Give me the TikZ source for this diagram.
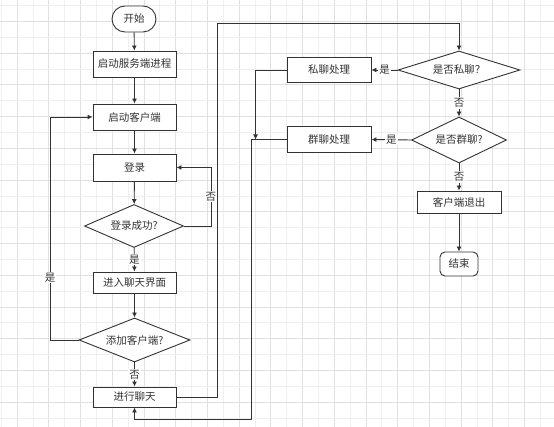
\documentclass[tikz,border=0pt]{standalone}
\usepackage{fontspec}
\setmainfont{Noto Sans CJK SC}
\usetikzlibrary{positioning,arrows.meta,calc,shapes.geometric}
\definecolor{flowline}{RGB}{51,51,51}
\definecolor{gridminor}{RGB}{239,239,239}
\definecolor{gridmajor}{RGB}{224,224,224}
\tikzset{
  flowfont/.style={font=\fontsize{10.5}{12}\selectfont, text=flowline},
  proc/.style={rectangle, draw=flowline, fill=white, line width=0.9pt,
               minimum width=83pt, minimum height=26pt, inner sep=0pt, flowfont},
  term/.style={proc, rounded corners=13pt, minimum width=44pt},
  decide/.style={diamond, draw=flowline, fill=white, line width=0.9pt,
                 inner sep=0pt, flowfont},
  edge/.style={-{Latex[length=5pt,width=5pt]}, line width=0.9pt, flowline},
  yn/.style={fill=white, inner sep=1pt, flowfont},
  minorline/.style={gridminor, line width=1pt},
  majorline/.style={gridmajor, line width=1pt}
}

\begin{document}
\begin{tikzpicture}[x=1pt,y=-1pt]
\useasboundingbox (0,0) rectangle (554,427);
\fill[white] (0,0) rectangle (554,427);
\foreach \k in {0,...,17} {
  \draw[minorline] ({1.3+31.72*\k},0) -- ({1.3+31.72*\k},427);
  \draw[majorline] ({17.16+31.72*\k},0) -- ({17.16+31.72*\k},427);
}
\foreach \k in {0,...,13} {
  \draw[minorline] (0,{5.7+31.72*\k}) -- (554,{5.7+31.72*\k});
  \draw[majorline] (0,{21.56+31.72*\k}) -- (554,{21.56+31.72*\k});
}

\node[term] (start) at (134,19) {开始};
\node[proc] (server) at (134.5,64) {启动服务端进程};
\node[proc] (client) at (134.5,117) {启动客户端};
\node[proc, minimum height=27pt] (login) at (134.5,167.5) {登录};
\node[decide, minimum width=99pt, minimum height=43pt, aspect=2.3] (okq) at (134,226) {登录成功?};
\node[proc, minimum height=21pt] (enter) at (134.5,282.5) {进入聊天界面};
\node[decide, minimum width=111pt, minimum height=44pt, aspect=2.5] (addq) at (134.5,340) {添加客户端?};
\node[proc, minimum height=20pt] (chat) at (134.5,397) {进行聊天};
\node[decide, minimum width=122pt, minimum height=38pt, aspect=3.2] (privq) at (459,70) {是否私聊？};
\node[proc, minimum width=84pt, minimum height=25pt] (priv) at (329,70) {私聊处理};
\node[decide, minimum width=95pt, minimum height=46pt, aspect=2.1] (grpq) at (459,140) {是否群聊?};
\node[proc, minimum width=84pt, minimum height=26pt] (grp) at (329,139.5) {群聊处理};
\node[proc, minimum width=84pt, minimum height=22pt] (quit) at (459,202) {客户端退出};
\node[term, minimum width=38pt, minimum height=24pt, rounded corners=5pt] (stop) at (459,264) {结束};

\draw[edge] (start) -- (server);
\draw[edge] (server) -- (client);
\draw[edge] (client) -- (login);
\draw[edge] (login) -- (okq);
\draw[edge] (okq) -- node[yn]{是} (enter);
\draw[edge] (okq.east) -- ++(27,0) |- node[yn, pos=0.25]{否} (login.east);
\draw[edge] (enter) -- (addq);
\draw[edge] (addq) -- node[yn]{否} (chat);
\draw[edge] (addq.west) -- ++(-28.5,0) |- node[yn, pos=0.14]{是} (client.west);
\draw[edge] (chat.east) -- ++(41,0) |- ($(privq.north)+(0,-27)$) -- (privq.north);
\draw[edge] (privq.west) -- node[yn]{是} (priv.east);
\draw[edge] (privq) -- node[yn]{否} (grpq);
\draw[edge] (grpq.west) -- node[yn]{是} (grp.east);
\draw[edge] (grpq) -- node[yn]{否} (quit);
\draw[edge] (quit) -- (stop);
\draw[edge] (priv.west) -| ($(grp.west)+(-31,0)$);
\draw[edge] (grp.west) -- ++(-35,0) |- ($(chat.south)+(0,12)$) -- (chat.south);
\end{tikzpicture}
\end{document}
